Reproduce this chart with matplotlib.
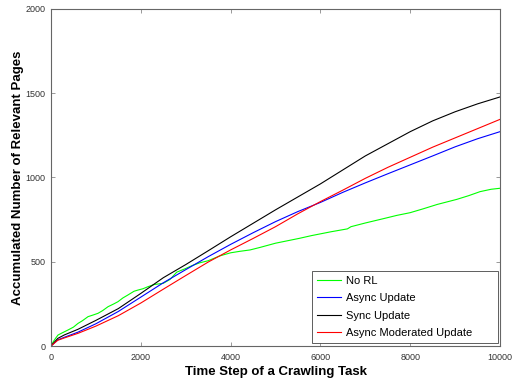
import matplotlib
matplotlib.use('Agg')
import matplotlib.pyplot as plt

plt.rcParams['font.family'] = ['Liberation Sans', 'DejaVu Sans']

# crawler results: accumulated relevant pages per time step
steps = [0, 150, 300, 600, 1000, 1500, 2000, 2500, 3000, 3500, 4000, 4500,
         5000, 5500, 6000, 6500, 7000, 7500, 8000, 8500, 9000, 9500, 10000]
sync_update = [0, 45, 66, 99, 152, 222, 312, 405, 483, 565, 648, 728,
               808, 885, 962, 1045, 1128, 1200, 1272, 1336, 1390, 1437, 1478]
async_update = [0, 36, 52, 82, 132, 205, 290, 375, 453, 530, 603, 672,
                738, 798, 852, 912, 968, 1022, 1075, 1128, 1182, 1230, 1272]
async_moderated = [0, 34, 48, 75, 118, 180, 255, 337, 418, 498, 570, 638,
                   708, 785, 857, 925, 995, 1060, 1120, 1180, 1235, 1290, 1345]

no_rl_steps = [0, 50, 100, 156, 250, 379, 500, 601, 700, 824, 950, 1047, 1150,
               1269, 1400, 1492, 1600, 1715, 1850, 1938, 2050, 2160, 2300, 2500,
               2650, 2800, 3000, 3150, 3318, 3500, 3763, 4000, 4209, 4432, 4655,
               5000, 5534, 5800, 6238, 6600, 6680, 7000, 7439, 7700, 7996, 8300,
               8600, 9035, 9300, 9555, 9800, 10000]
no_rl = [0, 25, 45, 65, 78, 95, 112, 134, 150, 174, 185, 194, 210,
         233, 250, 263, 285, 303, 325, 332, 340, 352, 365, 372,
         395, 438, 460, 478, 494, 506, 535, 553, 562, 570, 585,
         610, 639, 655, 678, 695, 708, 730, 758, 775, 791, 815,
         840, 870, 892, 916, 930, 936]

xticks = [0, 2000, 4000, 6000, 8000, 10000]
yticks = [0, 500, 1000, 1500, 2000]

fig = plt.figure(figsize=(5.15, 3.83), dpi=100)
ax = fig.add_axes([0.099, 0.0966, 0.872, 0.88])

ax.plot(no_rl_steps, no_rl, color='#00ff00', lw=0.8, label='No RL')
ax.plot(steps, async_update, color='#0000ff', lw=0.8, label='Async Update')
ax.plot(steps, sync_update, color='black', lw=0.8, label='Sync Update')
ax.plot(steps, async_moderated, color='#ff0000', lw=0.8, label='Async Moderated Update')

ax.set_xlim(0, 10000)
ax.set_ylim(0, 2000)
ax.set_xticks(xticks)
ax.set_yticks(yticks)
ax.tick_params(direction='in', top=True, right=True, length=3, width=0.6,
               color='#888888', labelsize=6.5, labelcolor='#333333')
ax.tick_params(axis='x', pad=5)
ax.tick_params(axis='y', pad=4)
for sp in ax.spines.values():
    sp.set_color('#666666')
    sp.set_linewidth(0.8)

ax.set_xlabel('Time Step of a Crawling Task', fontsize=9.5, fontweight='bold', labelpad=3)
ax.set_ylabel('Accumulated Number of Relevant Pages', fontsize=9.5, fontweight='bold', labelpad=1)

# legend box stretched to a fixed width in the lower right corner
leg = ax.legend(loc='lower left', bbox_to_anchor=(0.581, 0.009, 0.414, 0.21),
                mode='expand', fontsize=8, fancybox=False, framealpha=1,
                edgecolor='#444444', handlelength=2.2, handletextpad=0.45,
                borderaxespad=0, labelspacing=0.66, borderpad=0.45)
leg.get_frame().set_linewidth(0.6)

fig.savefig('out.png', dpi=100)
